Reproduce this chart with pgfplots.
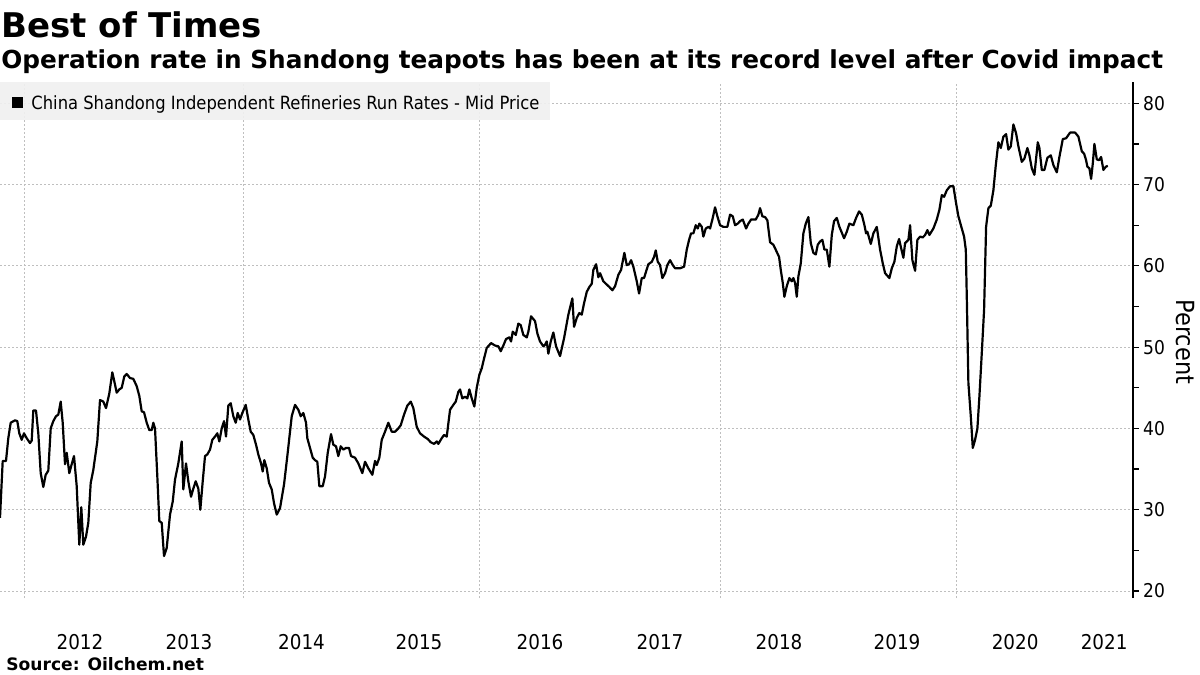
\documentclass[border=0pt]{standalone}
\usepackage{fontspec}
\setmainfont{DejaVu Sans}
\newfontfamily\cond{DejaVu Sans Condensed}
\usepackage{pgfplots}
\pgfplotsset{compat=1.18}

% x values are positions along the chart (pixels of the original), y values in percent
\pgfplotstableread{
x y
0.0 29.0
2.7 36.0
6.0 36.0
8.3 38.8
10.7 40.7
15.0 41.0
17.3 40.9
19.3 39.4
21.7 38.6
24.0 39.4
26.7 38.8
30.0 38.2
31.7 38.5
33.3 42.2
36.0 42.2
38.3 39.4
40.7 34.5
43.3 32.8
45.7 34.3
48.3 34.8
50.7 40.0
53.3 40.9
56.0 41.5
58.3 41.7
60.7 43.3
62.7 40.7
65.0 35.6
66.7 37.0
69.3 34.5
71.7 35.6
74.0 36.6
76.7 32.9
79.3 25.7
81.3 30.3
83.3 25.7
86.0 26.7
88.3 28.4
90.7 33.3
93.3 34.9
97.3 38.4
100.0 43.5
103.3 43.3
106.0 42.5
109.3 44.3
112.3 46.9
114.3 45.8
116.7 44.4
119.3 44.8
121.7 45.0
124.3 46.4
126.7 46.7
130.0 46.2
133.3 46.1
136.7 45.2
139.3 44.0
141.7 42.1
144.0 42.0
146.7 40.7
149.3 39.8
151.7 39.8
153.3 40.7
155.0 40.0
157.3 34.1
159.3 28.6
161.7 28.4
164.0 24.3
166.7 25.3
170.0 29.4
172.7 31.0
175.0 33.7
178.3 35.7
181.7 38.4
183.3 32.5
186.0 35.7
188.3 33.5
191.0 31.6
193.3 32.6
195.7 33.5
198.3 32.6
200.3 30.0
202.7 33.5
205.0 36.6
207.3 36.8
210.0 37.4
212.3 38.6
215.0 39.0
217.3 39.4
219.3 38.4
221.7 40.0
224.0 40.9
226.0 39.0
228.3 42.8
230.7 43.1
233.3 41.5
235.7 40.7
237.7 41.9
240.0 41.1
242.3 41.9
245.7 42.9
248.3 41.1
250.7 39.6
253.3 39.2
256.0 38.0
258.3 36.8
261.0 35.7
262.7 34.7
264.3 36.1
266.7 35.1
269.0 33.3
271.7 32.5
274.0 30.8
276.7 29.4
280.0 30.2
284.0 33.1
287.3 36.6
291.7 41.5
295.0 42.9
298.3 42.3
300.7 41.5
303.3 41.9
306.0 40.7
307.3 38.8
310.0 37.6
312.7 36.4
315.0 36.1
317.3 35.9
319.3 32.9
322.7 32.9
325.0 34.1
327.7 37.0
331.0 39.3
333.3 38.0
336.0 37.8
338.3 36.6
340.7 37.8
343.3 37.4
346.0 37.6
349.0 37.6
351.0 36.6
355.0 36.4
358.3 35.7
362.3 34.5
365.0 35.9
368.3 35.1
372.3 34.3
375.0 36.0
376.7 35.5
379.3 36.4
381.7 38.6
385.0 39.6
388.3 40.7
391.7 39.6
395.0 39.6
398.3 40.0
400.7 40.4
404.0 41.7
407.3 42.8
410.7 43.3
413.3 42.5
416.7 40.2
420.0 39.4
424.0 39.0
427.7 38.7
430.7 38.3
434.0 38.1
436.7 38.4
438.3 38.1
441.7 38.8
444.0 39.2
446.7 39.0
450.0 42.3
453.3 42.9
455.7 43.3
458.3 44.5
460.0 44.8
462.3 43.7
465.0 43.9
467.3 43.7
469.3 44.8
471.7 43.7
474.3 42.7
476.7 45.0
479.3 46.6
481.7 47.4
484.0 48.6
486.7 49.9
491.0 50.5
495.0 50.2
498.3 50.1
500.7 49.5
503.3 50.2
506.0 51.0
509.3 51.2
511.0 50.7
512.7 51.9
515.7 51.5
518.3 52.9
520.7 52.7
523.3 51.5
526.7 51.2
528.3 51.9
531.0 53.8
535.0 53.2
537.3 51.7
540.0 50.7
543.3 50.1
545.0 50.3
546.7 50.7
548.3 49.2
550.7 50.7
553.3 51.8
556.0 50.1
560.0 48.9
564.0 51.1
568.3 54.0
572.3 56.0
574.0 52.5
576.7 53.6
579.3 54.2
581.7 54.0
584.0 55.4
586.7 56.8
589.3 57.4
591.7 57.8
593.3 59.5
596.0 60.2
598.3 58.6
600.0 59.1
603.3 58.1
606.7 57.7
609.3 57.4
612.3 57.0
615.0 57.5
618.3 58.9
621.0 59.5
624.3 61.6
626.7 60.1
629.0 60.2
631.0 60.7
633.3 59.9
636.7 58.1
639.0 56.6
641.7 58.5
644.0 58.5
646.0 59.3
648.3 60.2
651.7 60.5
654.0 61.1
655.7 61.9
657.7 60.5
660.0 60.1
662.3 58.5
665.0 59.1
667.3 60.1
670.0 60.7
672.7 60.1
675.0 59.7
680.0 59.7
684.0 59.9
686.7 62.0
689.0 63.2
691.0 64.0
693.3 64.0
695.7 65.0
697.7 64.6
699.3 65.2
701.7 64.8
703.3 63.6
705.7 64.6
708.3 64.8
710.0 64.6
712.3 65.7
715.0 67.2
717.3 66.1
720.0 65.0
723.3 64.8
727.3 64.8
730.0 66.3
732.7 66.1
735.0 65.0
737.7 65.2
740.0 65.5
742.7 65.7
746.0 64.6
748.3 65.2
751.0 65.7
753.3 65.7
755.7 65.7
758.3 66.3
760.0 67.1
762.3 66.1
765.0 66.0
767.3 65.6
770.0 62.9
773.3 62.6
776.0 61.9
779.0 61.1
780.7 59.5
782.7 57.9
784.3 56.2
786.7 57.5
789.3 58.5
791.7 58.1
793.3 58.5
795.0 57.9
796.7 56.2
798.3 58.7
800.7 60.3
803.3 64.0
805.7 65.2
808.3 66.0
810.7 62.8
813.3 61.6
815.7 61.4
817.7 62.6
820.0 63.0
822.3 63.2
824.3 62.0
826.7 62.0
829.3 59.9
831.7 63.8
834.0 65.5
836.7 65.9
839.3 64.8
840.0 64.6
844.0 63.4
846.7 64.2
849.3 65.2
853.3 65.0
856.0 65.9
859.0 66.7
861.7 66.3
864.0 65.2
866.0 64.0
867.3 64.2
870.7 62.7
873.3 64.0
876.7 64.8
880.0 62.0
882.7 60.3
885.0 59.1
889.3 58.5
891.7 59.7
894.3 60.5
896.7 62.4
899.0 63.3
901.0 62.2
903.3 61.0
905.0 62.8
908.3 63.2
910.0 65.0
912.3 60.7
915.0 59.4
917.3 63.2
920.0 63.6
922.7 63.5
925.0 63.8
927.3 64.4
929.3 63.8
933.3 64.6
936.7 65.7
939.3 66.9
941.7 68.7
944.0 68.5
946.7 69.3
950.0 69.8
953.3 69.8
956.0 67.7
958.3 66.1
961.7 64.6
964.0 63.6
965.7 62.0
966.7 56.2
968.3 45.6
970.7 41.5
972.7 37.6
975.0 38.6
977.3 40.0
979.3 43.9
981.7 49.3
984.0 54.6
986.0 64.8
988.3 67.1
990.7 67.4
993.3 69.3
995.7 72.4
998.3 75.2
1000.7 74.5
1003.3 75.9
1006.0 76.2
1008.3 74.3
1010.7 74.7
1013.3 77.4
1016.0 76.3
1018.3 74.7
1021.7 72.8
1024.3 73.2
1027.3 74.5
1029.3 73.6
1031.7 72.0
1034.3 71.2
1037.7 75.2
1039.3 74.5
1041.7 71.8
1044.3 71.8
1047.3 73.3
1050.7 73.6
1053.3 72.4
1056.7 71.5
1059.3 73.4
1062.7 75.6
1066.0 75.7
1070.0 76.4
1075.0 76.4
1078.3 75.9
1081.7 74.1
1084.0 73.8
1086.0 73.0
1087.3 72.2
1089.3 72.0
1091.0 70.7
1092.7 72.6
1094.3 75.0
1096.7 73.1
1099.0 73.0
1101.0 73.4
1103.3 71.8
1105.7 72.2
1107.7 72.3
}\runrates

\begin{document}
\begin{tikzpicture}
\path[use as bounding box] (0,0) rectangle (600bp,337.5bp);

\begin{axis}[
  at={(0bp,38.5bp)}, anchor=south west,
  scale only axis, width=566.4bp, height=258bp,
  xmin=0, xmax=1132.7, ymin=19.14, ymax=82.62,
  axis x line=bottom, axis y line=right,
  axis line style={-},
  x axis line style={draw=none},
  y axis line style={black, line width=0.75bp},
  xtick={80,189,301.5,419,540,660,779,897,1015,1104},
  xticklabels={2012,2013,2014,2015,2016,2017,2018,2019,2020,2021},
  extra x ticks={24,243,479,720,956},
  extra x tick labels={},
  extra x tick style={xmajorgrids=true},
  ytick={20,30,40,50,60,70,80},
  minor ytick={25,35,45,55,65,75},
  ymajorgrids=true,
  grid style={gray!50, dash pattern=on 1bp off 1bp, line width=0.45bp},
  tick align=outside,
  x tick style={draw=none},
  y tick style={black, line width=0.6bp},
  major tick length=3bp, minor tick length=3bp,
  /pgf/number format/assume math mode=true,
  xticklabel style={font=\cond\fontsize{10.2bp}{12bp}\selectfont, anchor=base, inner sep=0pt, yshift=-22.5bp},
  yticklabel style={font=\cond\fontsize{9.5bp}{11bp}\selectfont, anchor=west, inner sep=0pt, xshift=2bp},
  clip=false,
]
\addplot[black, line width=1.1bp, line join=round] table[x=x, y=y] {\runrates};
\end{axis}

% legend box
\fill[black!6, opacity=0.9] (0bp,277.5bp) rectangle (275bp,296.7bp);
\fill[black] (5.85bp,283.35bp) rectangle (11.65bp,289.15bp);
\node[anchor=base west, inner sep=0pt, font=\cond\fontsize{9.1bp}{11bp}\selectfont]
  at (15.5bp,282.5bp) {China Shandong Independent Refineries Run Rates - Mid Price};

% titles
\node[anchor=base west, inner sep=0pt, font=\bfseries\fontsize{17bp}{20bp}\selectfont]
  at (0.5bp,318.85bp) {Best of Times};
\node[anchor=base west, inner sep=0pt, font=\bfseries\fontsize{12.38bp}{14bp}\selectfont]
  at (0.5bp,303.35bp) {Operation rate in Shandong teapots has been at its record level after Covid impact};
\node[anchor=base west, inner sep=0pt, font=\bfseries\fontsize{8.55bp}{10bp}\selectfont]
  at (3bp,2.5bp) {Source: Oilchem.net};

% axis title on the right
\node[rotate=-90, inner sep=0pt, font=\cond\fontsize{12.5bp}{14bp}\selectfont]
  at (592.5bp,166.5bp) {Percent};
\end{tikzpicture}
\end{document}
